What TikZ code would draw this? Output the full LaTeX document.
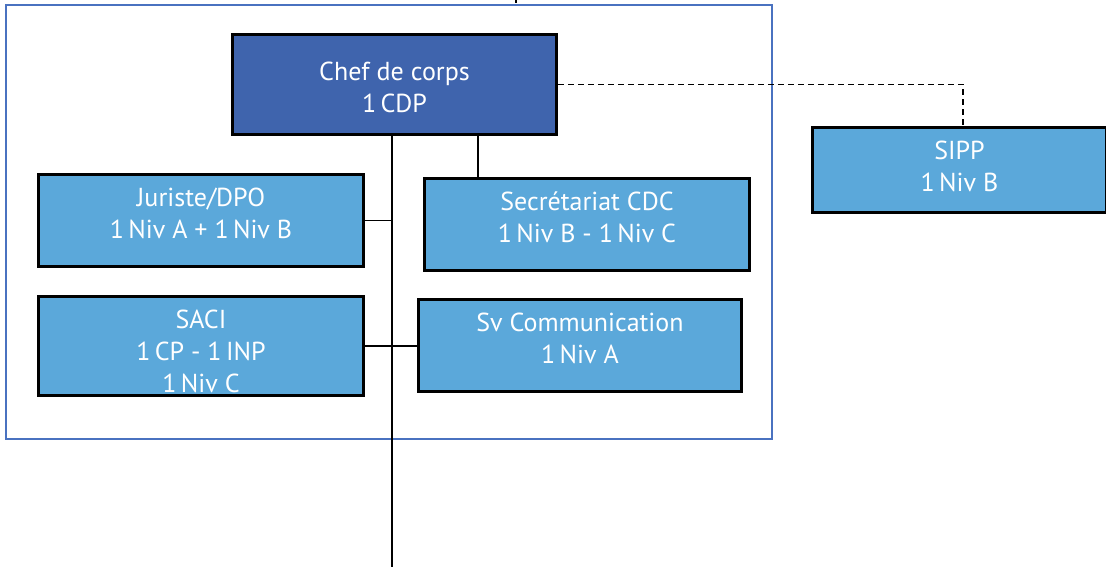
\documentclass[tikz,border=0pt]{standalone}
\usepackage{fontspec}
\setmainfont{PT Sans}
\usetikzlibrary{positioning}
\definecolor{cdpblue}{HTML}{3F64AD}
\definecolor{unitblue}{HTML}{5BA8DA}
\definecolor{frameblue}{HTML}{4A72C0}
\begin{document}
\begin{tikzpicture}[
	x=1pt,
	y=-1pt,
	unitbox/.style={draw=black,line width=3pt,fill=unitblue,inner sep=0pt},
	headbox/.style={unitbox,fill=cdpblue},
	unittext/.style={text=white,align=center,anchor=north,inner sep=0pt,font=\fontsize{26}{32}\selectfont},
	link/.style={draw=black,line width=1.3pt},
	linkdash/.style={link,dash pattern=on 6pt off 4pt}
	]
	\useasboundingbox (0,0) rectangle (1106,567);
	\draw[frameblue,line width=1.2pt] (6,5) rectangle (772,439);
	% boxes
	\node[headbox,minimum width=324pt,minimum height=100pt] (cdp) at (394.5,84.5) {};
	\node[unitbox,minimum width=325pt,minimum height=92pt] (jur) at (201,220.5) {};
	\node[unitbox,minimum width=325pt,minimum height=99pt] (saci) at (201,346) {};
	\node[unitbox,minimum width=325pt,minimum height=92pt] (secr) at (587,224.5) {};
	\node[unitbox,minimum width=323pt,minimum height=92pt] (com) at (580,345.5) {};
	\node[unitbox,minimum width=294pt,minimum height=85pt] (sipp) at (959.5,170) {};
	% texts
	\node[unittext,below=29pt of cdp.north] (cdptext) {Chef de corps\\1\,CDP};
	\node[unittext,below=15pt of jur.north] (jurtext) {Juriste/DPO\\1\,Niv A + 1\,Niv B};
	\node[unittext,below=15pt of saci.north] (sacitext) {SACI\\1\,CP - 1\,INP\\1\,Niv C};
	\node[unittext,below=15pt of secr.north] (secrtext) {Secrétariat CDC\\1\,Niv B - 1\,Niv C};
	\node[unittext,below=15pt of com.north] (comtext) {Sv Communication\\1\,Niv A};
	\node[unittext,below=15pt of sipp.north] (sipptext) {SIPP\\1\,Niv B};
	% links
	\coordinate (trunkend) at (392,567);
	\coordinate (secrtap) at (478,0);
	\coordinate (sipptap) at (963,0);
	\coordinate (toptick) at (516,0);
	\draw[link] (cdp.south -| trunkend) -- (trunkend);
	\draw[link] (cdp.south -| secrtap) -- (secr.north -| secrtap);
	\draw[link] (jur.east) -- (jur.east -| trunkend);
	\draw[link] (saci.east) -- (saci.east -| com.west);
	\draw[linkdash] (cdp.east) -| (sipp.north -| sipptap);
	\draw[link] (toptick) -- ++(0,3);
\end{tikzpicture}
\end{document}
